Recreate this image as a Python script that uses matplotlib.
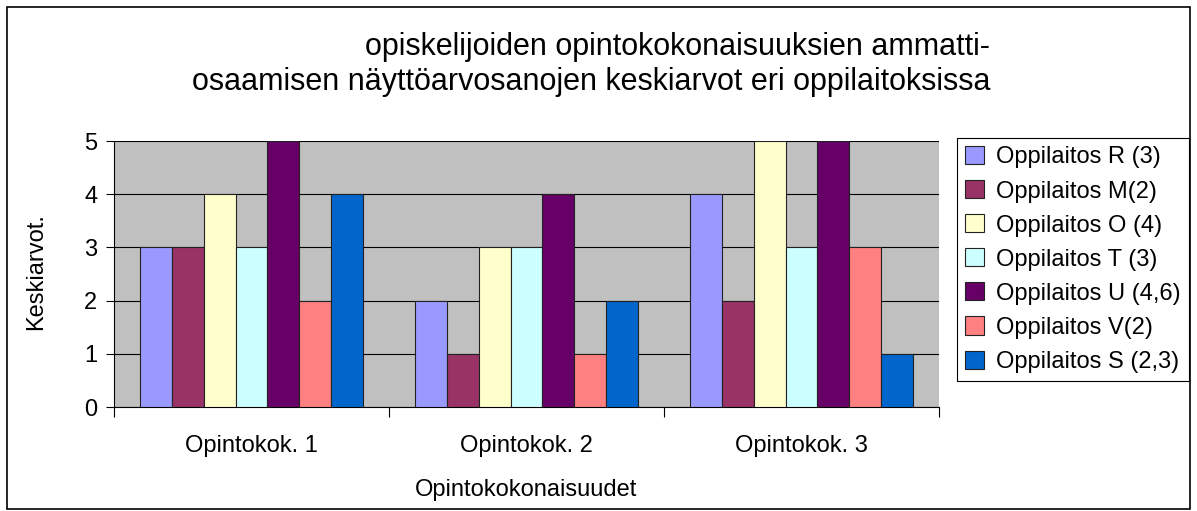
import numpy as np
import matplotlib
matplotlib.use('Agg')
import matplotlib.pyplot as plt
from matplotlib.patches import Rectangle

plt.rcParams['font.family'] = ['Liberation Sans', 'DejaVu Sans']

groups = ['Opintokok. 1', 'Opintokok. 2', 'Opintokok. 3']
series = ['Oppilaitos R (3)', 'Oppilaitos M(2)', 'Oppilaitos O (4)', 'Oppilaitos T (3)',
          'Oppilaitos U (4,6)', 'Oppilaitos V(2)', 'Oppilaitos S (2,3)']
values = [
    [3, 2, 4],  # R
    [3, 1, 2],  # M
    [4, 3, 5],  # O
    [3, 3, 3],  # T
    [5, 4, 5],  # U
    [2, 1, 3],  # V
    [4, 2, 1],  # S
]
colors = ['#9999FF', '#993366', '#FFFFCC', '#CCFFFF', '#660066', '#FF8080', '#0066CC']

W, H = 1197, 511
fig = plt.figure(figsize=(W / 100, H / 100), dpi=100)
fig.patch.set_facecolor('white')
# outer frame
fig.patches.append(Rectangle((7 / W, 2 / H), 1 - 14 / W, 1 - 9 / H, transform=fig.transFigure,
                             fill=False, edgecolor='black', linewidth=1.2))

ax = fig.add_axes([114 / W, (H - 407) / H, 825 / W, 266 / H])
ax.set_facecolor('#C0C0C0')

x = np.arange(len(groups))
bw = 0.116
for i, (name, vals, c) in enumerate(zip(series, values, colors)):
    ax.bar(x + (i - 3) * bw, vals, bw, color=c, edgecolor='#222222', linewidth=0.8,
           label=name, zorder=3)

ax.set_xlim(-0.5, 2.5)
ax.set_ylim(0, 5)
ax.set_yticks(range(6))
ax.yaxis.grid(True, color='black', linewidth=0.8, zorder=1)
ax.set_xticks(x)
ax.set_xticklabels(groups, fontsize=17)
ax.set_xticks([-0.5, 0.5, 1.5, 2.5], minor=True)
ax.tick_params(axis='x', which='major', length=0, pad=20)
ax.tick_params(axis='x', which='minor', length=7, width=0.8)
ax.tick_params(axis='y', labelsize=17, length=6, width=0.8, pad=6)
for s in ['top', 'right']:
    ax.spines[s].set_visible(False)
ax.spines['left'].set_linewidth(0.8)
ax.spines['bottom'].set_linewidth(0.8)

fig.text(526 / W, 1 - 490 / H, 'Opintokokonaisuudet', fontsize=17, ha='center', va='center')
fig.text(36 / W, 1 - 272 / H, 'Keskiarvot.', fontsize=17, ha='center', va='center',
         rotation=90)

fig.text(990 / W, 1 - 47 / H, 'opiskelijoiden opintokokonaisuuksien ammatti-',
         fontsize=22, ha='right', va='center')
fig.text(990 / W, 1 - 82 / H, 'osaamisen näyttöarvosanojen keskiarvot eri oppilaitoksissa',
         fontsize=22, ha='right', va='center')

leg = fig.legend(loc='upper left', bbox_to_anchor=(957 / W, 1 - 138 / H), fontsize=17,
                 frameon=True, fancybox=False, edgecolor='black', framealpha=1,
                 handlelength=0.8, handleheight=0.8, handletextpad=0.5,
                 labelspacing=0.5, borderpad=0.35, borderaxespad=0)
leg.get_frame().set_linewidth(0.8)

fig.savefig('out.png', dpi=100)
